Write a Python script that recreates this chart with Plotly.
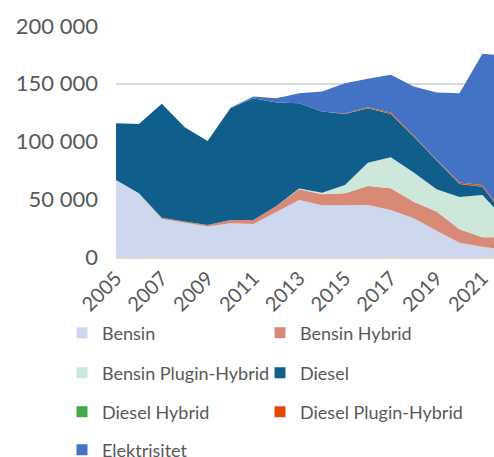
import plotly.graph_objects as go

years = list(range(2005, 2023))
bensin = [66700, 55200, 32900, 29700, 26300, 29200, 28600, 39000, 49400, 44800, 44800, 45100, 40700, 33500, 22800, 12400, 8900, 6100]
bensin_hybrid = [0, 0, 1000, 1000, 1500, 2800, 3400, 5200, 9300, 9500, 10400, 16400, 18800, 14400, 16500, 11600, 8100, 10900]
bensin_plugin = [0, 0, 0, 0, 0, 0, 0, 0, 500, 1400, 7200, 20200, 26900, 25200, 19400, 28000, 36700, 15300]
diesel = [49200, 60050, 98700, 81700, 72700, 96800, 105500, 89500, 74000, 70200, 61500, 47100, 37500, 31200, 24800, 11300, 7200, 2600]
diesel_hybrid = [0, 0, 0, 0, 0, 0, 0, 0, 0, 0, 0, 100, 200, 200, 200, 100, 100, 100]
diesel_plugin = [0, 0, 0, 0, 0, 0, 0, 0, 0, 0, 300, 700, 1000, 600, 500, 1100, 1400, 1400]
elektrisitet = [0, 0, 0, 0, 0, 400, 1400, 3800, 8600, 17400, 26300, 24700, 32600, 42500, 58200, 77300, 113500, 137800]

series = [
    ("Bensin", bensin, "#CDD7EE"),
    ("Bensin Hybrid", bensin_hybrid, "#D98A77"),
    ("Bensin Plugin-Hybrid", bensin_plugin, "#CDE8DA"),
    ("Diesel", diesel, "#0F5E8C"),
    ("Diesel Hybrid", diesel_hybrid, "#46A945"),
    ("Diesel Plugin-Hybrid", diesel_plugin, "#DD4A08"),
    ("Elektrisitet", elektrisitet, "#4472C4"),
]

font_family = "Lato, 'DejaVu Sans', sans-serif"
txt = "#595959"
W, H = 494, 457
L, T, B = 116, 26, 200
PW, PH = W - L, H - T - B

# legend slot (column, row) for each series, laid out like the reference's 2-column legend
col_x = [62, 260]
row_y = [333, 373, 412, 450]

fig = go.Figure()
for name, vals, col in series:
    fig.add_trace(go.Scatter(
        x=years, y=vals, name=name, stackgroup="one", mode="none",
        fillcolor=col, line=dict(width=0), showlegend=False, hoverinfo="x+y+name"))

legends = {}
for i, (name, vals, col) in enumerate(series):
    key = "legend" if i == 0 else f"legend{i + 1}"
    fig.add_trace(go.Scatter(
        x=[None], y=[None], name=name, mode="markers",
        marker=dict(symbol="square", size=11, color=col), legend=key, showlegend=True))
    cx, ry = col_x[i % 2], row_y[i // 2]
    legends[key] = dict(orientation="h", x=(cx - L) / PW, xanchor="left",
                        y=(H - B - ry) / PH, yanchor="middle", itemwidth=30,
                        font=dict(size=18, color=txt, family=font_family),
                        bgcolor="rgba(0,0,0,0)", borderwidth=0)

fig.update_layout(
    width=W, height=H,
    margin=dict(l=L, r=0, t=T, b=B, autoexpand=False),
    paper_bgcolor="white", plot_bgcolor="white",
    font=dict(family=font_family, color=txt),
    xaxis=dict(
        range=[2005, 2021.507], tickmode="array",
        tickvals=list(range(2005, 2022, 2)), ticktext=[str(y) for y in range(2005, 2022, 2)],
        tickangle=-45, tickfont=dict(size=20, color=txt, family=font_family),
        showgrid=False, showline=True, linecolor="#D9D9D9", linewidth=1.5, ticks="",
        zeroline=False, automargin=False),
    yaxis=dict(
        range=[0, 200000], tickvals=[0, 50000, 100000, 150000, 200000],
        ticktext=["0", "50 000", "100 000", "150 000", "200 000"],
        tickfont=dict(size=22, color=txt, family=font_family),
        showgrid=True, gridcolor="#D9D9D9", gridwidth=1.5, zeroline=False, ticks="",
        ticklabelstandoff=17, automargin=False),
    **legends,
)

fig.write_html("out.html", config={"displayModeBar": False},
               post_script="document.body.style.margin='0';")
